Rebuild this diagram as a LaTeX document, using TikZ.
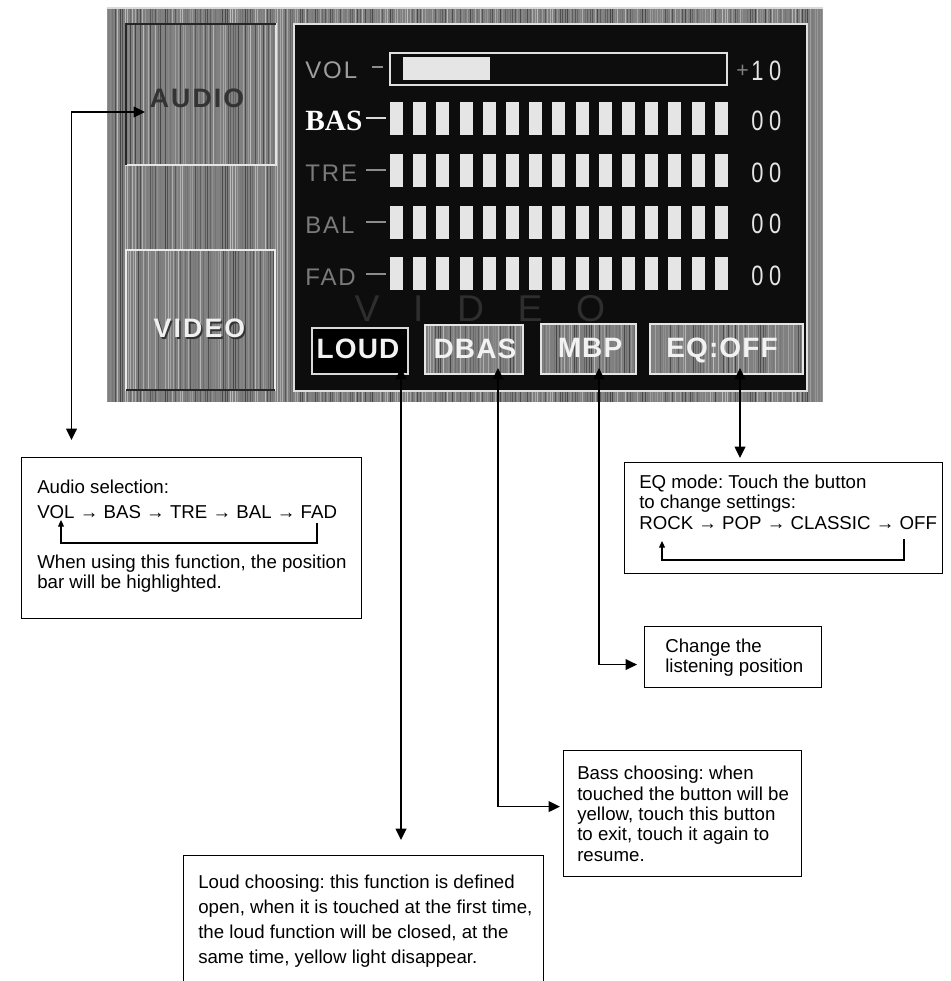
\documentclass[tikz,border=0pt]{standalone}
\usepackage{fontspec}
\setmainfont{Liberation Sans}
\newfontfamily\scrsans{Liberation Sans}[LetterSpace=8]
\newfontfamily\scrbold{Liberation Sans}[LetterSpace=4]
\newfontfamily\scrserif{Liberation Serif}
\newfontfamily\scrdig{Liberation Sans}[FakeStretch=0.78,LetterSpace=20]
\newfontfamily\scrbg{Liberation Sans}[LetterSpace=90]
\usetikzlibrary{arrows.meta}
\frenchspacing
\newcommand\pxu{*0.75pt}
\newcommand\stripefill[4]{%
  \fill[black!50] (#1,#2) rectangle (#3,#4);
  \pgfmathtruncatemacro\nst{(#3-#1-1)/2.5}%
  \foreach \k in {0,...,\nst}{%
    \pgfmathsetmacro\sx{#1+0.8+2.5*\k}%
    \pgfmathtruncatemacro\sg{26+48*rnd}%
    \draw[line width=0.7pt, black!\sg] (\sx,#2) -- (\sx,#4);
  }}
\begin{document}
\begin{tikzpicture}[x=0.75pt,y=-0.75pt,
  box/.style={draw=black, line width=0.9pt, fill=white, inner sep=0pt, anchor=north west},
  lbl/.style={anchor=base west, inner sep=0pt, font=\fontsize{14pt}{16pt}\selectfont},
  conn/.style={draw=black, line width=1.1pt, {Triangle[length=8.5pt,width=8pt]}-{Triangle[length=8.5pt,width=8pt]}},
  fbloop/.style={draw=black, line width=0.8pt, -{Triangle[length=5pt,width=4.5pt]}},
  barcell/.style={fill=white!90!black},
  scrlbl/.style={anchor=base west, inner sep=0pt},
  rowlbl/.style={scrlbl, text=black!52, font=\scrsans\fontsize{18pt}{18pt}\selectfont},
  digval/.style={scrlbl, text=white!90!black, font=\scrdig\fontsize{21pt}{21pt}\selectfont},
  btntxt/.style={anchor=base, inner sep=0pt, text=white!95!black, font=\scrbold\bfseries\fontsize{21pt}{21pt}\selectfont},
  dashmark/.style={draw=black!45, line width=1.5pt},
]
\useasboundingbox (0,0) rectangle (950,981);
\clip (0,0) rectangle (950,981);
\pgfmathsetseed{12}
% ---------- screen photo ----------
\stripefill{107}{7}{823}{402}
\fill[black!15] (107,7) rectangle (823,9.5);
% AUDIO button (pressed)
\stripefill{125}{23}{276}{165}
\draw[black!10, line width=1.2pt] (125,165) -- (276,165) -- (276,23);
\draw[black!85, line width=2.2pt] (126,165) -- (126,24) -- (276,24);
\node[anchor=base, inner sep=0pt, text=black!80, font=\scrsans\bfseries\fontsize{20pt}{20pt}\selectfont] (audiobtn) at (197,108) {AUDIO};
% VIDEO button (raised)
\stripefill{125}{249}{275}{391}
\draw[black!8, line width=1.2pt] (126,391) -- (126,250) -- (275,250) -- (275,391);
\draw[black!85, line width=2pt] (126,390) -- (275,390);
\node[anchor=base, inner sep=0pt, text=black!80, font=\scrsans\bfseries\fontsize{20pt}{20pt}\selectfont] (videoshade) at (201,339) {VIDEO};
\node[anchor=base, inner sep=0pt, text=white!94!black, font=\scrsans\bfseries\fontsize{20pt}{20pt}\selectfont] (videobtn) at (199.5,337) {VIDEO};
% black panel
\fill[black!95] (293,23) rectangle (808,392);
\draw[black!12, line width=1.5pt] (294,24) rectangle (807,391);
\node[anchor=base, inner sep=0pt, text=black!82, font=\scrbg\fontsize{28pt}{28pt}\selectfont] (bgvideo) at (480,321) {VIDEO};
% VOL row
\node[rowlbl, text=black!38] (vol) at (305,79) {VOL};
\draw[dashmark] (372,67) -- (383,67);
\draw[white!88!black, line width=1.6pt] (390,53) rectangle (727,85);
\fill[white!90!black] (403,57) rectangle (490,80);
\node[scrlbl, text=black!50, font=\fontsize{16pt}{16pt}\selectfont] (volplus) at (736,78) {+};
\node[digval] (volval) at (751,80) {10};
% row labels
\node[scrlbl, text=white, font=\scrserif\bfseries\fontsize{22pt}{22pt}\selectfont] (bas) at (305,130) {BAS};
\node[rowlbl] (tre) at (305,181) {TRE};
\node[rowlbl] (bal) at (305,233) {BAL};
\node[rowlbl] (fad) at (305,285) {FAD};
\draw[dashmark, draw=white!85!black] (366,118) -- (386,118);
\draw[dashmark] (366,170) -- (386,170);
\draw[dashmark] (366,222) -- (386,222);
\draw[dashmark] (366,274) -- (386,274);
% bars
\foreach \r in {0,1,2,3}{
  \foreach \i in {0,...,14}{
    \fill[barcell] ({390+23.2*\i},{102+51.8*\r}) rectangle ++(13,33);
  }}
% values
\node[digval] (v1) at (751,130) {00};
\node[digval] (v2) at (751,182) {00};
\node[digval] (v3) at (751,233) {00};
\node[digval] (v4) at (751,285) {00};
% function buttons
\fill[black] (312,328) rectangle (408,374);
\draw[black!15, line width=1.2pt] (312,328) rectangle (408,374);
\node[btntxt] (loud) at (358,358) {LOUD};
\stripefill{425}{325}{523}{374}
\draw[black!10, line width=1.2pt] (425,325) rectangle (523,374);
\node[btntxt] (dbas) at (475,358) {DBAS};
\stripefill{541}{324}{636}{374}
\draw[black!10, line width=1.2pt] (541,324) rectangle (636,374);
\node[btntxt] (mbp) at (590,357) {MBP};
\stripefill{650}{324}{803}{374}
\draw[black!10, line width=1.2pt] (650,324) rectangle (803,374);
\node[btntxt] (eqoff) at (722,357) {EQ:OFF};
% ---------- explanation boxes ----------
\node[box, minimum width=340\pxu, minimum height=161\pxu] (audiobox) at (21,457) {};
\node[box, minimum width=318\pxu, minimum height=111\pxu] (eqbox) at (624,462) {};
\node[box, minimum width=177\pxu, minimum height=61\pxu] (listenbox) at (644,626) {};
\node[box, minimum width=238\pxu, minimum height=126\pxu] (bassbox) at (563,750) {};
\node[box, minimum width=360\pxu, minimum height=170\pxu] (loudbox) at (183,855) {};
% audio box text
\node[lbl] (au1) at (37,493) {Audio selection:};
\node[lbl] (au2) at (37,518) {VOL → BAS → TRE → BAL → FAD};
\node[lbl] (au3) at (37,568) {When using this function, the position};
\node[lbl] (au4) at (37,588) {bar will be highlighted.};
\coordinate (auLoopA) at (317,523);
\coordinate (auLoopB) at (61,520);
\draw[fbloop] (auLoopA) -- ++(0,20) -| (auLoopB);
% EQ box text
\node[lbl] (eq1) at (639,488) {EQ mode: Touch the button};
\node[lbl] (eq2) at (639,508) {to change settings:};
\node[lbl] (eq3) at (639,529) {ROCK → POP → CLASSIC → OFF};
\coordinate (eqLoopA) at (904,539);
\coordinate (eqLoopB) at (662,541);
\draw[fbloop] (eqLoopA) -- ++(0,21) -| (eqLoopB);
% listening box text
\node[lbl] (li1) at (665,652) {Change the};
\node[lbl] (li2) at (665,672) {listening position};
% bass box text
\node[lbl] (ba1) at (577,779) {Bass choosing: when};
\node[lbl] (ba2) at (577,800) {touched the button will be};
\node[lbl] (ba3) at (577,820) {yellow, touch this button};
\node[lbl] (ba4) at (577,840) {to exit, touch it again to};
\node[lbl] (ba5) at (577,861) {resume.};
% loud box text
\node[lbl] (lo1) at (198,888) {Loud choosing: this function is defined};
\node[lbl] (lo2) at (198,913) {open, when it is touched at the first time,};
\node[lbl] (lo3) at (198,938) {the loud function will be closed, at the};
\node[lbl] (lo4) at (198,963) {same time, yellow light disappear.};
% ---------- connectors ----------
\coordinate (tAudio) at (145,112);
\coordinate (cAudio) at (71.5,112);
\draw[conn, shorten >=12.75pt] (tAudio) -- (cAudio) -- (cAudio |- audiobox.north);
\coordinate (tLoud) at (401,368);
\draw[conn, shorten >=11.25pt] (tLoud) -- (tLoud |- loudbox.north);
\coordinate (tDbas) at (498,368);
\draw[conn, shorten >=2.25pt] (tDbas) |- ([yshift=5.25pt]bassbox.west);
\coordinate (tMbp) at (599,368);
\draw[conn, shorten >=5.25pt] (tMbp) |- ([yshift=-5.6pt]listenbox.west);
\coordinate (tEq) at (740,368);
\draw[conn, shorten >=3pt] (tEq) -- (tEq |- eqbox.north);
\end{tikzpicture}
\end{document}
